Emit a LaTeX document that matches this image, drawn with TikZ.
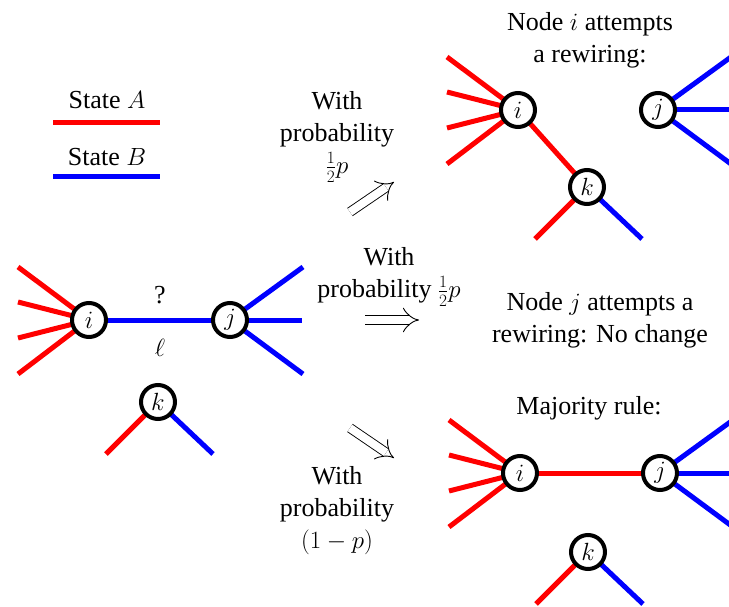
\documentclass[tikz,border=0pt]{standalone}
\usepackage{fontspec}
\setmainfont{Liberation Serif}
\usetikzlibrary{arrows.meta,calc}
\pgfdeclarelayer{bg}
\pgfsetlayers{bg,main}
\begin{document}
\begin{tikzpicture}[x=1pt,y=-1pt,
  vert/.style={circle,draw=black,line width=4pt,fill=white,minimum size=34pt,inner sep=0pt,font=\fontsize{26}{31}\selectfont},
  lab/.style={align=center,font=\fontsize{26}{32}\selectfont,inner sep=0pt},
  ea/.style={draw=red,line width=5pt},
  eb/.style={draw=blue,line width=5pt},
  imp/.style={double distance=8pt,line width=0.9pt,-{Implies}}]
\useasboundingbox (0,0) rectangle (729,607);

% legend
\node[lab] (tA) at (107,100) {State $A$};
\coordinate (lA1) at (53,123); \coordinate (lA2) at (160,123);
\draw[ea] (lA1) -- (lA2);
\node[lab] (tB) at (107,157) {State $B$};
\coordinate (lB1) at (53,177); \coordinate (lB2) at (160,177);
\draw[eb] (lB1) -- (lB2);

% left graph
\node[vert] (Li) at (89,320) {$i$};
\node[vert] (Lj) at (230,320) {$j$};
\node[vert] (Lk) at (158,402) {$k$};
% top right graph
\node[vert] (Ti) at (518,110) {$i$};
\node[vert] (Tj) at (658,110) {$j$};
\node[vert] (Tk) at (587,187) {$k$};
% bottom right graph
\node[vert] (Bi) at (520,473) {$i$};
\node[vert] (Bj) at (660,473) {$j$};
\node[vert] (Bk) at (588,552) {$k$};

\begin{pgfonlayer}{bg}
\foreach \g in {L,T,B}{
  \foreach \n/\dy in {1/-53,2/-18,3/18,4/54}{
    \coordinate (\g i\n) at ($(\g i)+(-71,\dy)$);
    \draw[ea] (\g i.center) -- (\g i\n);
  }
  \foreach \n/\dx/\dy in {1/73/-53,2/72/0,3/73/54}{
    \coordinate (\g j\n) at ($(\g j)+(\dx,\dy)$);
    \draw[eb] (\g j.center) -- (\g j\n);
  }
  \coordinate (\g k1) at ($(\g k)+(-52,52)$);
  \coordinate (\g k2) at ($(\g k)+(55,52)$);
  \draw[ea] (\g k.center) -- (\g k1);
  \draw[eb] (\g k.center) -- (\g k2);
}
\draw[eb] (Li.center) -- (Lj.center);
\draw[ea] (Ti.center) -- (Tk.center);
\draw[ea] (Bi.center) -- (Bj.center);
\end{pgfonlayer}

\node[lab] (q) at (160,295) {?};
\node[lab] (ell) at (160,348) {$\ell$};

% texts
\node[lab] (ti) at (590,40) {Node $i$ attempts\\a rewiring:};
\node[lab] (tj) at (600,320) {Node $j$ attempts a\\rewiring: No change};
\node[lab] (tm) at (589,408) {Majority rule:};
\node[lab] (p1) at (337,137) {With\\probability\\$\frac{1}{2}p$};
\node[lab] (p2) at (389,277) {With\\probability $\frac{1}{2}p$};
\node[lab] (p3) at (337,511) {With\\probability\\$(1-p)$};

% arrows
\coordinate (a1s) at (350,212); \coordinate (a1e) at (394,182);
\coordinate (a2s) at (365,320); \coordinate (a2e) at (419,320);
\coordinate (a3s) at (350,428); \coordinate (a3e) at (394,458);
\draw[imp] (a1s) -- (a1e);
\draw[imp] (a2s) -- (a2e);
\draw[imp] (a3s) -- (a3e);
\end{tikzpicture}
\end{document}
